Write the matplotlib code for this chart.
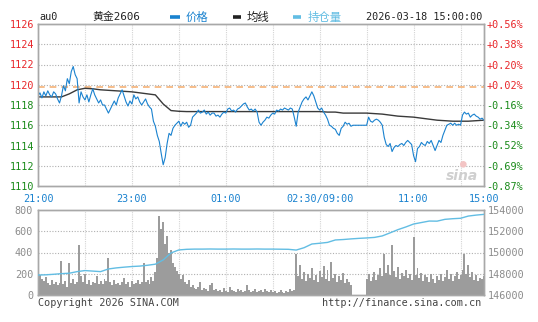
import matplotlib

matplotlib.use("Agg")
import matplotlib.pyplot as plt  # noqa: E402
import numpy as np  # noqa: E402
from matplotlib.lines import Line2D  # noqa: E402

plt.rcParams.update({
    "font.family": ["DejaVu Sans Mono", "Noto Sans CJK SC"],
    "font.size": 7.3,
    "axes.edgecolor": "#a8a8a8",
    "axes.linewidth": 1.0,
})

W, H = 538, 322

# --- au0 intraday, one slot per index (night 21:00 -> day 15:00) ---
prev_settle = 1119.78

price = [
    1118.9, 1119.2, 1118.7, 1119.3, 1118.9, 1119.4, 1119.0, 1118.8, 1119.3, 1119.1,
    1118.6, 1118.2, 1118.9, 1119.9, 1119.4, 1120.6, 1120.1, 1121.3, 1121.8, 1121.0,
    1120.6, 1118.2, 1119.3, 1118.8, 1118.5, 1119.0, 1118.3, 1119.0, 1119.6, 1119.0,
    1118.6, 1118.2, 1118.5, 1118.0, 1118.0, 1117.6, 1117.2, 1117.6, 1118.0, 1118.4,
    1118.0, 1118.7, 1119.1, 1119.5, 1118.9, 1118.3, 1117.9, 1118.4, 1118.1, 1119.0,
    1118.6, 1118.8, 1118.3, 1118.0, 1118.3, 1118.6, 1118.1, 1117.8, 1117.6, 1116.4,
    1115.9, 1115.0, 1114.4, 1113.2, 1112.1, 1112.8, 1114.2, 1115.2, 1115.0, 1115.7,
    1116.0, 1116.2, 1116.4, 1115.9, 1116.3, 1116.1, 1116.3, 1115.8, 1116.0, 1116.8,
    1117.0, 1117.2, 1117.5, 1117.2, 1117.3, 1117.5, 1117.1, 1117.3, 1117.0, 1117.2,
    1117.2, 1116.9, 1117.0, 1116.8, 1117.1, 1117.3, 1117.2, 1117.6, 1117.7, 1117.4,
    1117.5, 1117.3, 1117.6, 1117.7, 1117.9, 1118.1, 1118.2, 1117.8, 1117.5, 1117.6,
    1117.4, 1117.6, 1117.3, 1116.3, 1116.0, 1116.3, 1116.5, 1116.8, 1116.7, 1117.0,
    1117.2, 1117.1, 1117.5, 1117.4, 1117.6, 1117.5, 1117.7, 1117.6, 1117.5, 1117.7,
    1117.6, 1116.8, 1115.9, 1117.3, 1117.8, 1118.3, 1118.6, 1118.8, 1118.5, 1118.9,
    1119.3, 1118.9, 1118.3, 1117.7, 1117.5, 1117.7, 1117.3, 1117.0, 1116.6, 1116.0,
    1115.9, 1115.7, 1115.6, 1115.2, 1115.0, 1115.7, 1115.9, 1116.3, 1116.1, 1116.2,
    1115.9, 1116.0, 1116.0, 1116.0, 1116.0, 1116.0, 1116.0, 1116.0, 1116.0, 1116.8,
    1116.4, 1116.3, 1116.5, 1116.6, 1116.5, 1116.3, 1116.0, 1114.8, 1114.1, 1113.9,
    1114.2, 1113.4, 1113.8, 1114.0, 1113.9, 1114.1, 1114.2, 1114.0, 1114.3, 1114.5,
    1114.3, 1114.1, 1113.0, 1112.4, 1113.7, 1113.9, 1114.3, 1114.1, 1114.0, 1114.4,
    1114.2, 1114.5, 1114.0, 1113.5, 1114.0, 1114.5, 1114.3, 1115.0, 1115.5, 1116.0,
    1116.1, 1116.2, 1116.0, 1116.2, 1116.0, 1116.1, 1116.0, 1117.0, 1117.3, 1117.1,
    1117.2, 1116.8, 1117.0, 1117.1, 1116.9, 1116.8, 1116.6, 1116.7, 1116.5,
]

volume = [
    230, 190, 150, 130, 170, 110, 90, 140, 100, 120,
    90, 110, 320, 100, 130, 80, 300, 110, 150, 100,
    120, 470, 180, 120, 200, 100, 140, 90, 120, 110,
    180, 100, 130, 100, 150, 130, 350, 120, 90, 140,
    100, 110, 90, 120, 160, 100, 120, 80, 130, 100,
    110, 140, 100, 120, 300, 120, 140, 100, 170, 130,
    220, 350, 740, 620, 690, 480, 560, 400, 420, 300,
    260, 230, 200, 150, 190, 120, 100, 140, 80, 90,
    70, 60, 80, 120, 50, 70, 60, 40, 90, 110,
    50, 60, 40, 50, 30, 70, 40, 30, 80, 50,
    40, 30, 60, 40, 50, 30, 40, 90, 50, 30,
    40, 60, 30, 40, 50, 30, 60, 40, 30, 50,
    30, 40, 20, 30, 50, 30, 20, 40, 30, 60,
    40, 50, 390, 180, 280, 150, 220, 130, 200, 160,
    250, 140, 190, 120, 230, 170, 270, 150, 240, 130,
    310, 160, 200, 120, 180, 140, 210, 110, 150, 120,
    90, 0, 0, 0, 0, 0, 0, 0, 150, 200,
    130, 170, 220, 140, 190, 250, 180, 390, 210, 280,
    190, 470, 230, 170, 260, 150, 210, 180, 240, 160,
    200, 140, 550, 190, 250, 160, 210, 130, 190, 170,
    120, 200, 150, 110, 180, 140, 200, 130, 170, 240,
    150, 200, 130, 180, 220, 150, 190, 240, 390, 200,
    280, 170, 220, 140, 190, 130, 160, 150, 180,
]

# average price and open interest, sampled every 4th slot
avg_price = [
    1118.8, 1118.8, 1118.8, 1118.8, 1119.1, 1119.5, 1119.65, 1119.6, 1119.5, 1119.45,
    1119.4, 1119.35, 1119.3, 1119.2, 1119.1, 1119.0, 1118.1, 1117.45, 1117.38, 1117.35,
    1117.35, 1117.35, 1117.35, 1117.35, 1117.35, 1117.35, 1117.35, 1117.35, 1117.35, 1117.35,
    1117.35, 1117.35, 1117.35, 1117.35, 1117.35, 1117.35, 1117.35, 1117.3, 1117.3, 1117.2,
    1117.2, 1117.2, 1117.2, 1117.15, 1117.1, 1117.0, 1116.9, 1116.85, 1116.8, 1116.7,
    1116.6, 1116.5, 1116.45, 1116.4, 1116.4, 1116.4, 1116.45, 1116.5,
]

open_int = [
    147880, 147900, 147950, 148010, 148050, 148200, 148300, 148250, 148200, 148450,
    148550, 148620, 148680, 148720, 148800, 148900, 149300, 149960, 150240, 150300,
    150320, 150320, 150330, 150320, 150320, 150330, 150320, 150320, 150330, 150320,
    150320, 150310, 150300, 150230, 150450, 150800, 150870, 150950, 151180, 151220,
    151280, 151330, 151370, 151420, 151560, 151850, 152150, 152400, 152680, 152820,
    152960, 152950, 153120, 153180, 153220, 153430, 153520, 153590,
]

price_ticks = [1110, 1112, 1114, 1116, 1118, 1120, 1122, 1124, 1126]
vol_ticks = [0, 200, 400, 600, 800]
oi_ticks = [146000, 148000, 150000, 152000, 154000]
time_labels = ["21:00", "23:00", "01:00", "02:30/09:00", "11:00", "15:00"]
time_slots = [0, 48, 96, 144, 192, 228]

RED, GREEN = "#e8262a", "#198a19"
BLUE, LIGHT_BLUE, GRAY = "#1a82cf", "#62bde3", "#8c8c8c"

x = np.arange(len(price))
x4 = np.arange(0, len(price), 4)
grid_x = np.arange(24, len(price) - 1, 24)

fig = plt.figure(figsize=(W / 100, H / 100), dpi=100)
ax = fig.add_axes([38 / W, 1 - 186 / H, 446 / W, 162 / H])
axv = fig.add_axes([38 / W, 1 - 295 / H, 446 / W, 85 / H])

for a in (ax, axv):
    a.set_xlim(0, len(price) - 1)
    for gx in grid_x:
        a.axvline(gx, color="#d4d4d4", lw=0.8, ls=(0, (1, 1)), zorder=0)
    a.tick_params(length=0)

# price panel
ax.set_ylim(price_ticks[0], price_ticks[-1])
for p in price_ticks[1:-1]:
    ax.axhline(p, color="#b0b0b0", lw=0.8, ls=(0, (1, 1.5)), zorder=0)
ax.axhline(prev_settle, color="#f5b277", lw=1.2, ls=(0, (4, 3)), zorder=1)
ax.plot(x4, avg_price, color="#3a3a3a", lw=1.0, zorder=2)
ax.plot(x, price, color=BLUE, lw=0.8, zorder=3)

ax.set_yticks(price_ticks)
ax.set_yticklabels([str(p) for p in price_ticks])
ax.tick_params(axis="y", pad=3)
for lab, p in zip(ax.get_yticklabels(), price_ticks):
    lab.set_color(RED if p > prev_settle else GREEN)

ax.set_xticks(time_slots)
ax.set_xticklabels(time_labels, color=BLUE)
ax.tick_params(axis="x", pad=5.5)

pct = [(p / prev_settle - 1) * 100 for p in price_ticks]
axp = ax.twinx()
axp.set_ylim(pct[0], pct[-1])
axp.set_yticks(pct)
axp.set_yticklabels([f"{v:+.2f}%" for v in pct])
axp.tick_params(length=0, pad=1.5)
for lab, v in zip(axp.get_yticklabels(), pct):
    lab.set_color(RED if v > 0 else GREEN)

# volume panel with open interest on the right scale
axv.set_ylim(vol_ticks[0], vol_ticks[-1])
for v in vol_ticks[1:-1]:
    axv.axhline(v, color="#b0b0b0", lw=0.8, ls=(0, (1, 1.5)), zorder=0)
axv.bar(x, volume, width=1.0, color="#9c9c9c", linewidth=0, zorder=2)
axv.set_yticks(vol_ticks)
axv.set_yticklabels([str(v) for v in vol_ticks], color=GRAY)
axv.tick_params(axis="y", pad=3.5)
axv.set_xticks([])

axo = axv.twinx()
axo.set_ylim(oi_ticks[0], oi_ticks[-1])
axo.plot(x4, open_int, color=LIGHT_BLUE, lw=1.0, zorder=3)
axo.set_yticks(oi_ticks)
axo.set_yticklabels([str(v) for v in oi_ticks], color=GRAY)
axo.tick_params(length=0, pad=2.5)


def ftext(px, py, s, **kw):
    return fig.text(px / W, 1 - py / H, s, va="center", **kw)


def fdash(px0, px1, py, color):
    fig.add_artist(Line2D([px0 / W, px1 / W], [1 - py / H, 1 - py / H],
                          color=color, lw=2.6, solid_capstyle="butt"))


# header row
ftext(39, 17, "au0", color="#222222")
ftext(92, 17, "黄金2606", color="#222222", fontsize=7.8)
fdash(170, 180, 17, BLUE)
ftext(186, 17, "价格", color=BLUE, fontsize=8.2)
fdash(233, 241, 17, "#222222")
ftext(247, 17, "均线", color="#222222", fontsize=8.2)
fdash(293, 301, 17, LIGHT_BLUE)
ftext(308, 17, "持仓量", color=LIGHT_BLUE, fontsize=8.2)
ftext(366, 17, "2026-03-18 15:00:00", color="#222222")

# footer
ftext(38, 303, "Copyright 2026 SINA.COM", color="#444444")
ftext(481, 303, "http://finance.sina.com.cn", color="#444444", ha="right")

# faint sina mark in the price panel corner
ftext(463, 163, "●", color="#f3c4c4", fontsize=8, ha="center")
ftext(462, 176, "sina", color="#cfcfcf", fontsize=10, ha="center",
      family="DejaVu Sans", style="italic", weight="bold")

fig.savefig("out.png", dpi=100)
plt.close(fig)
